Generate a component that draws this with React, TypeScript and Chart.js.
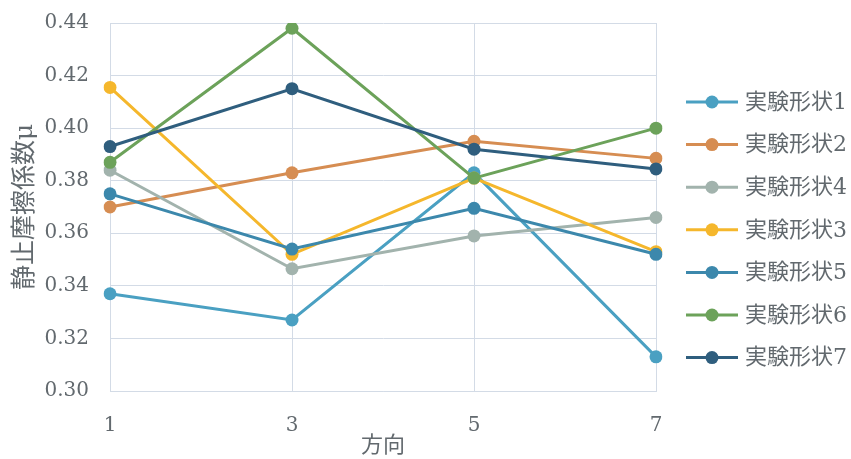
import React, { useEffect, useRef } from "react";
import { Chart, registerables } from "chart.js";

Chart.register(...registerables);

const directions = ["1", "3", "5", "7"];
const seriesNames = ["実験形状1", "実験形状2", "実験形状4", "実験形状3", "実験形状5", "実験形状6", "実験形状7"];
const shape1 = [0.337, 0.327, 0.383, 0.313];
const shape2 = [0.370, 0.383, 0.395, 0.3885];
const shape4 = [0.384, 0.3465, 0.359, 0.366];
const shape3 = [0.4155, 0.352, 0.381, 0.353];
const shape5 = [0.375, 0.354, 0.3695, 0.352];
const shape6 = [0.387, 0.438, 0.381, 0.400];
const shape7 = [0.393, 0.415, 0.392, 0.3845];
const seriesValues = [shape1, shape2, shape4, shape3, shape5, shape6, shape7];
const seriesColors = ["#4AA0C2", "#D68D52", "#A2B3AD", "#F5B72C", "#3C88AC", "#6CA25A", "#2F5E7E"];
const yTicks = [0.30, 0.32, 0.34, 0.36, 0.38, 0.40, 0.42, 0.44];

const FONT = "'DejaVu Serif', 'Noto Sans CJK JP', serif";
const TEXT_COLOR = "#62696e";
const GRID_COLOR = "#d3dbe6";

const legendPlugin = {
  id: "customLegend",
  afterDraw(chart: any) {
    const ctx = chart.ctx;
    ctx.save();
    seriesNames.forEach((name, i) => {
      const y = 102 + i * 42.6;
      const color = seriesColors[i];
      ctx.strokeStyle = color;
      ctx.lineWidth = 3;
      ctx.beginPath();
      ctx.moveTo(686, y);
      ctx.lineTo(738, y);
      ctx.stroke();
      ctx.fillStyle = color;
      ctx.beginPath();
      ctx.arc(712, y, 6.5, 0, Math.PI * 2);
      ctx.fill();
      ctx.fillStyle = TEXT_COLOR;
      ctx.font = `22px ${FONT}`;
      ctx.textBaseline = "middle";
      ctx.textAlign = "left";
      ctx.fillText(name, 745, y + 1);
    });
    ctx.restore();
  },
};

export default function App() {
  const canvasRef = useRef<HTMLCanvasElement | null>(null);

  useEffect(() => {
    if (!canvasRef.current) return;
    const n = seriesNames.length;
    const chart = new Chart(canvasRef.current, {
      type: "line",
      data: {
        labels: directions,
        datasets: seriesNames.map((name, i) => ({
          label: name,
          data: seriesValues[i],
          borderColor: seriesColors[i],
          backgroundColor: seriesColors[i],
          pointBackgroundColor: seriesColors[i],
          pointBorderColor: seriesColors[i],
          borderWidth: 3,
          pointRadius: 6.5,
          pointBorderWidth: 0,
          tension: 0,
          fill: false,
          order: n - i,
        })),
      },
      options: {
        animation: false,
        responsive: false,
        maintainAspectRatio: false,
        layout: { padding: { top: 23, right: 195, bottom: 0, left: 0 } },
        plugins: {
          legend: { display: false },
          tooltip: { enabled: false },
        },
        scales: {
          x: {
            type: "category",
            offset: false,
            grid: { color: GRID_COLOR, lineWidth: 1, drawTicks: false },
            border: { color: GRID_COLOR, width: 1 },
            ticks: { color: TEXT_COLOR, font: { family: FONT, size: 20 }, padding: 23 },
            title: {
              display: true,
              text: "方向",
              color: TEXT_COLOR,
              font: { family: FONT, size: 22 },
              padding: { top: 0, bottom: 0 },
            },
            afterFit: (scale: any) => {
              scale.height = 68;
              scale.paddingLeft = 0;
              scale.paddingRight = 0;
            },
          },
          y: {
            type: "linear",
            min: 0.30,
            max: 0.44,
            afterBuildTicks: (scale: any) => {
              scale.ticks = yTicks.map((v) => ({ value: v }));
            },
            grid: { color: GRID_COLOR, lineWidth: 1, drawTicks: false },
            border: { color: GRID_COLOR, width: 1 },
            ticks: {
              color: TEXT_COLOR,
              font: { family: FONT, size: 20 },
              padding: 21,
              callback: (v: any) => Number(v).toFixed(2),
            },
            title: {
              display: true,
              text: "静止摩擦係数μ",
              color: TEXT_COLOR,
              font: { family: FONT, size: 25 },
              padding: { top: 10, bottom: 0 },
            },
            afterFit: (scale: any) => {
              scale.width = 110;
              scale.paddingTop = 12;
              scale.paddingBottom = 12;
            },
          },
        },
      },
      plugins: [legendPlugin],
    });
    return () => chart.destroy();
  }, []);

  return (
    <div style={{ position: "fixed", left: 0, top: 0, width: 851, height: 459, background: "#fff" }}>
      <canvas ref={canvasRef} width={851} height={459} style={{ display: "block", width: 851, height: 459 }} />
    </div>
  );
}
